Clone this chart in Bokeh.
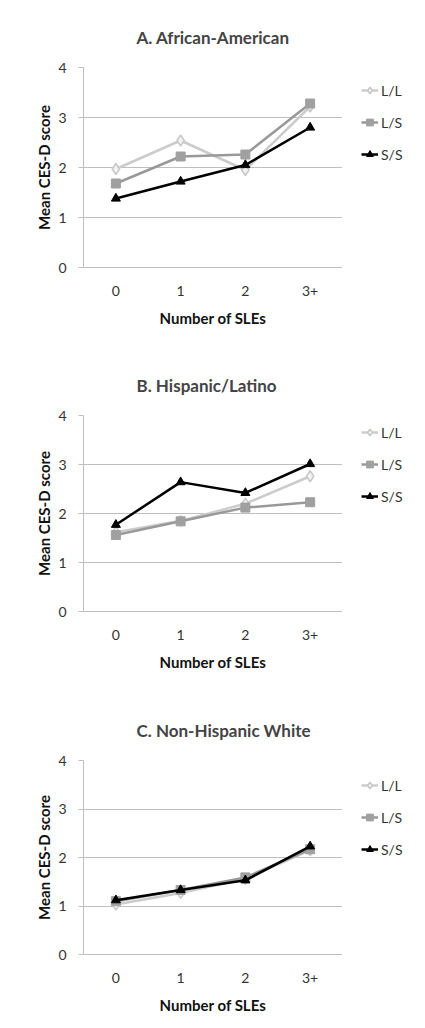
from bokeh.plotting import figure
from bokeh.layouts import column, row
from bokeh.models import FactorRange, Range1d, Legend, LegendItem, FixedTicker
from bokeh.embed import file_html
from bokeh.resources import INLINE

categories = ["0", "1", "2", "3+"]
series_names = ["L/L", "L/S", "S/S"]

titles = ["A. African-American", "B. Hispanic/Latino", "C. Non-Hispanic White"]

aa_LL = [1.97, 2.54, 1.95, 3.22]
aa_LS = [1.68, 2.22, 2.26, 3.28]
aa_SS = [1.38, 1.72, 2.05, 2.80]

hl_LL = [1.62, 1.85, 2.20, 2.76]
hl_LS = [1.56, 1.84, 2.12, 2.23]
hl_SS = [1.77, 2.64, 2.42, 3.01]

nhw_LL = [1.03, 1.27, 1.56, 2.15]
nhw_LS = [1.10, 1.33, 1.59, 2.17]
nhw_SS = [1.12, 1.33, 1.53, 2.23]

y_ticks = [0, 1, 2, 3, 4]

FONT = "Lato"
GRID = "#bfbfbf"
STYLES = [
    dict(line_color="#cccccc", marker="diamond", size=11, fill_color="#f2f2f2", mline="#c8c8c8", mlw=1.5),
    dict(line_color="#999999", marker="square", size=9, fill_color="#a0a0a0", mline="#a0a0a0", mlw=1),
    dict(line_color="#000000", marker="triangle", size=9, fill_color="#000000", mline="#000000", mlw=1),
]


def add_series(p, values):
    rends = []
    for vals, st in zip(values, STYLES):
        rl = p.line(categories, vals, line_color=st["line_color"], line_width=2.5)
        rm = p.scatter(categories, vals, marker=st["marker"], size=st["size"],
                       fill_color=st["fill_color"], line_color=st["mline"],
                       line_width=st["mlw"])
        rends.append((rl, rm))
    return rends


def make_panel(title, ll, ls, ss, height, top, legend_y):
    p = figure(x_range=FactorRange(*categories, range_padding=0),
               y_range=Range1d(0, 4),
               width=342, height=height,
               output_backend="svg", toolbar_location=None,
               min_border_left=83, min_border_right=0,
               min_border_top=top, min_border_bottom=height - top - 200)
    p.title.text = title
    p.title.text_font = FONT
    p.title.text_font_size = "17px"
    p.title.text_font_style = "bold"
    p.title.align = "left"
    p.title.offset = 53
    p.title.standoff = 40
    p.outline_line_color = None

    p.xgrid.grid_line_color = None
    p.ygrid.grid_line_color = GRID
    p.yaxis.ticker = FixedTicker(ticks=y_ticks)

    for ax in (p.xaxis, p.yaxis):
        ax.axis_line_color = GRID
        ax.major_tick_line_color = GRID
        ax.minor_tick_line_color = None
        ax.major_label_text_font = FONT
        ax.major_label_text_font_size = "14px"
        ax.major_label_text_color = "#333333"
        ax.axis_label_text_font = FONT
        ax.axis_label_text_font_size = "15px"
        ax.axis_label_text_font_style = "bold"
        ax.axis_label_text_color = "#111111"
    p.xaxis.major_tick_out = 0
    p.xaxis.major_tick_in = 0
    p.xaxis.major_label_standoff = 18
    p.xaxis.axis_label = "Number of SLEs"
    p.xaxis.axis_label_standoff = 10
    p.yaxis.major_tick_out = 5
    p.yaxis.major_tick_in = 0
    p.yaxis.major_label_standoff = 12
    p.yaxis.axis_label = "Mean CES-D score"
    p.yaxis.axis_label_standoff = 2

    add_series(p, [ll, ls, ss])

    # legend panel: its own figure, with the same series drawn outside its view
    q = figure(x_range=FactorRange(*categories, range_padding=0),
               y_range=Range1d(10, 11),
               width=82, height=height,
               output_backend="svg", toolbar_location=None,
               x_axis_location=None, y_axis_location=None,
               min_border=0)
    q.outline_line_color = None
    q.xgrid.grid_line_color = None
    q.ygrid.grid_line_color = None
    rends = add_series(q, [ll, ls, ss])
    legend = Legend(items=[LegendItem(label=name, renderers=list(r))
                           for name, r in zip(series_names, rends)],
                    location=(19, legend_y),
                    padding=4, spacing=12,
                    label_height=20, glyph_height=20, glyph_width=17,
                    label_standoff=3,
                    label_text_font=FONT, label_text_font_size="14px",
                    label_text_color="#333333",
                    border_line_color=None, background_fill_alpha=0)
    q.add_layout(legend)
    return row(p, q, spacing=0)


pa = make_panel(titles[0], aa_LL, aa_LS, aa_SS, 349, 67, 103)
pb = make_panel(titles[1], hl_LL, hl_LS, hl_SS, 342, 59, 105)
pc = make_panel(titles[2], nhw_LL, nhw_LS, nhw_SS, 330, 57, 95)

layout = column(pa, pb, pc, spacing=3)

open("out.html", "w").write(file_html(layout, INLINE))
